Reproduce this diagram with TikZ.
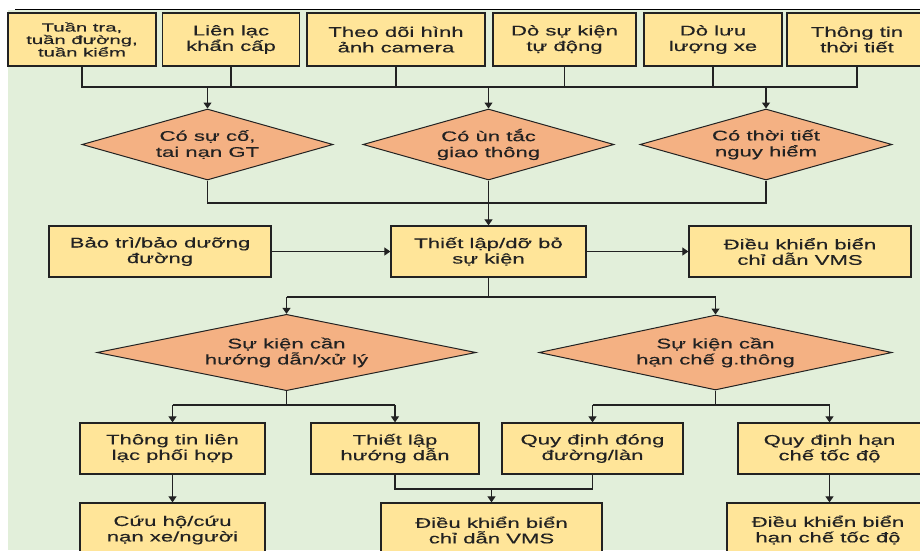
\documentclass[tikz,border=0pt]{standalone}
\usepackage{fontspec}
\setmainfont{Liberation Sans}[FakeStretch=1.58,FakeBold=0.35]
\newfontfamily\smallfont{Liberation Sans}[FakeStretch=1.72,FakeBold=0.3]
\usetikzlibrary{shapes.geometric,arrows.meta}
\definecolor{bggreen}{HTML}{E2EFDA}
\definecolor{boxfill}{HTML}{FFE599}
\definecolor{diafill}{HTML}{F4B183}
\definecolor{linec}{HTML}{222222}
\tikzset{
  box/.style={draw=linec, line width=1.3pt, fill=boxfill, align=center, inner sep=0pt,
    font=\fontsize{14}{15.5}\selectfont, text=linec, minimum height=51pt},
  dia/.style={draw=linec, line width=1pt, fill=diafill, shape=diamond, aspect=3.5, align=center,
    inner sep=0pt, font=\fontsize{14}{16}\selectfont, text=linec, minimum height=71pt},
  conn/.style={draw=linec, line width=1.2pt},
  arr/.style={conn, -{Triangle[length=6pt,width=8pt]}}
}
\begin{document}
\begin{tikzpicture}[x=1pt,y=-1pt]
\useasboundingbox (0,0) rectangle (920,550);
\clip (0,0) rectangle (920,550);
\fill[white] (0,0) rectangle (920,550);
\fill[bggreen] (8,10) rectangle (920,550);
\draw[line width=1.2pt, black] (15,9.5) -- (920,9.5);

% top row
\node[box, minimum width=148pt, minimum height=53pt, font=\smallfont\fontsize{11.8}{12.5}\selectfont] (t1) at (82,39.5) {Tuần tra,\\tuần đường,\\tuần kiểm};
\node[box, minimum width=137pt, minimum height=53pt] (t2) at (231,39.5) {Liên lạc\\khẩn cấp};
\node[box, minimum width=178pt, minimum height=53pt] (t3) at (396,39.5) {Theo dõi hình\\ảnh camera};
\node[box, minimum width=143pt, minimum height=53pt] (t4) at (564.5,39.5) {Dò sự kiện\\tự động};
\node[box, minimum width=138pt, minimum height=53pt] (t5) at (713,39.5) {Dò lưu\\lượng xe};
\node[box, minimum width=140pt, minimum height=53pt] (t6) at (857,39.5) {Thông tin\\thời tiết};

\coordinate (jt) at (0,87);
\coordinate (jd) at (0,203);
\coordinate (jm) at (0,297);
\coordinate (jr) at (0,405);
\coordinate (js) at (0,489);

% diamonds
\node[dia, minimum width=251pt] (d1) at (207.5,144.5) {Có sự cố,\\tai nạn GT};
\node[dia, minimum width=251pt] (d2) at (488.5,144.5) {Có ùn tắc\\giao thông};
\node[dia, minimum width=252pt] (d3) at (766,144.5) {Có thời tiết\\nguy hiểm};

\draw[conn] (t1.south) -- (t1.south |- jt) -- (t6.south |- jt) -- (t6.south);
\foreach \n in {t2,t3,t4,t5} \draw[conn] (\n.south) -- (\n.south |- jt);
\foreach \n in {d1,d2,d3} \draw[arr] (\n.north |- jt) -- (\n.north);

% middle row
\node[box, minimum width=222pt] (m1) at (160,251.5) {Bảo trì/bảo dưỡng\\đường};
\node[box, minimum width=195pt] (m2) at (488.5,251.5) {Thiết lập/dỡ bỏ\\sự kiện};
\node[box, minimum width=222pt] (m3) at (800,251.5) {Điều khiển biển\\chỉ dẫn VMS};

\draw[conn] (d1.south) -- (d1.south |- jd) -- (d3.south |- jd) -- (d3.south);
\draw[arr] (d2.south) -- (m2.north);
\draw[arr] (m1.east) -- (m2.west);
\draw[arr] (m2.east) -- (m3.west);

% second diamonds
\node[dia, minimum width=379pt] (d4) at (286.5,352.5) {Sự kiện cần\\hướng dẫn/xử lý};
\node[dia, minimum width=353pt] (d5) at (715.5,352.5) {Sự kiện cần\\hạn chế g.thông};

\draw[conn] (m2.south) -- (m2.south |- jm);
\draw[conn] (d4.north |- jm) -- (d5.north |- jm);
\draw[arr] (d4.north |- jm) -- (d4.north);
\draw[arr] (d5.north |- jm) -- (d5.north);

% row r
\node[box, minimum width=185pt] (r1) at (172.5,448.5) {Thông tin liên\\lạc phối hợp};
\node[box, minimum width=168pt] (r2) at (395,448.5) {Thiết lập\\hướng dẫn};
\node[box, minimum width=181pt] (r3) at (592.5,448.5) {Quy định đóng\\đường/làn};
\node[box, minimum width=183pt] (r4) at (829.5,448.5) {Quy định hạn\\chế tốc độ};

\draw[conn] (d4.south) -- (d4.south |- jr);
\draw[conn] (r1.north |- jr) -- (r2.north |- jr);
\draw[arr] (r1.north |- jr) -- (r1.north);
\draw[arr] (r2.north |- jr) -- (r2.north);
\draw[conn] (d5.south) -- (d5.south |- jr);
\draw[conn] (r3.north |- jr) -- (r4.north |- jr);
\draw[arr] (r3.north |- jr) -- (r3.north);
\draw[arr] (r4.north |- jr) -- (r4.north);

% bottom row
\node[box, minimum width=185pt, minimum height=54pt] (s1) at (172.5,530) {Cứu hộ/cứu\\nạn xe/người};
\node[box, minimum width=221pt, minimum height=54pt] (s2) at (491.5,530) {Điều khiển biển\\chỉ dẫn VMS};
\node[box, minimum width=202pt, minimum height=54pt] (s3) at (828,530) {Điều khiển biển\\hạn chế tốc độ};

\draw[arr] (r1.south) -- (s1.north);
\draw[conn] (r2.south) -- (r2.south |- js) -- (r3.south |- js) -- (r3.south);
\draw[arr] (s2.north |- js) -- (s2.north);
\draw[arr] (r4.south) -- (r4.south |- s3.north);
\end{tikzpicture}
\end{document}
